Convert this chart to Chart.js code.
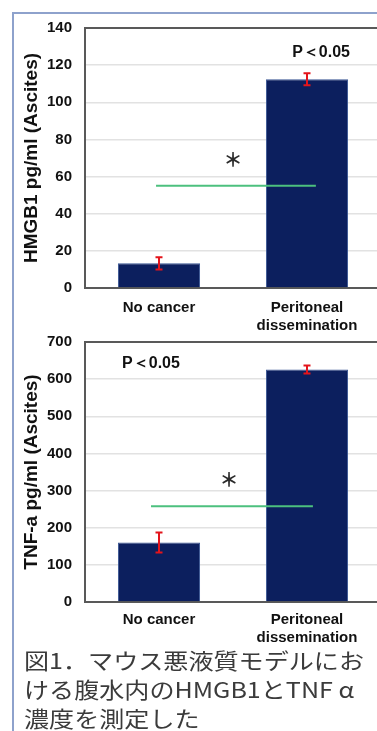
<!DOCTYPE html>
<html>
<head>
<meta charset="utf-8">
<script src="https://cdn.jsdelivr.net/npm/chart.js@4.4.1/dist/chart.umd.min.js"></script>
<style>
html, body { margin: 0; padding: 0; background: #fff; overflow: hidden; }
body { width: 377px; height: 731px; position: relative; }
#frame { position: absolute; left: 12px; top: 12px; width: 420px; height: 780px;
  border-left: 2px solid #8ea2cc; border-top: 2px solid #8ea2cc; }
canvas { position: absolute; left: 0; }
#hmgb1Chart { top: 0; }
#tnfChart { top: 320px; }
#caption { position: absolute; left: 24px; top: 645px; font-family: "Noto Sans CJK JP", sans-serif;
  font-size: 22px; line-height: 29px; color: #3b3b3b; white-space: nowrap;
  transform: scaleX(1.14); transform-origin: 0 0; }
</style>
</head>
<body>
<div id="frame"></div>
<canvas id="hmgb1Chart" width="385" height="345"></canvas>
<canvas id="tnfChart" width="385" height="330"></canvas>
<div id="caption">図1．マウス悪液質モデルにお<br>ける腹水内のHMGB1とTNF α<br>濃度を測定した</div>
<script>
// 카테고리
const categories = [['No cancer'], ['Peritoneal', 'dissemination']];

// HMGB1 (pg/ml)
const hmgb1Values = [13.3, 112.4];
const hmgb1Errors = [3.3, 3.2];
const hmgb1Ticks = [0, 20, 40, 60, 80, 100, 120, 140];

// TNF-a (pg/ml)
const tnfValues = [160, 626];
const tnfErrors = [27, 11];
const tnfTicks = [0, 100, 200, 300, 400, 500, 600, 700];

const frameColor = '#595959';
const fontFamily = '"Liberation Sans", Arial, sans-serif';

// 에러바, 유의선, 별표, P값 그리기
const marksPlugin = {
	id: 'marks',
	afterDatasetsDraw(chart, args, opts) {
		let ctx = chart.ctx;
		let xs = chart.scales.x;
		let ys = chart.scales.y;
		let meta = chart.getDatasetMeta(0);
		let values = chart.data.datasets[0].data;

		ctx.save();
		// error bars
		ctx.strokeStyle = '#e3141b';
		ctx.lineWidth = 2;
		opts.errors.forEach(function(e, i) {
			let x = meta.data[i].x;
			let y1 = ys.getPixelForValue(values[i] + e);
			let y2 = ys.getPixelForValue(values[i] - e);
			ctx.beginPath();
			ctx.moveTo(x, y1); ctx.lineTo(x, y2);
			ctx.moveTo(x - 3.5, y1); ctx.lineTo(x + 3.5, y1);
			ctx.moveTo(x - 3.5, y2); ctx.lineTo(x + 3.5, y2);
			ctx.stroke();
		});

		// significance line
		let ly = ys.getPixelForValue(opts.line.y);
		ctx.strokeStyle = '#4cc07e';
		ctx.lineWidth = 2;
		ctx.beginPath();
		ctx.moveTo(xs.getPixelForValue(opts.line.x0), ly);
		ctx.lineTo(xs.getPixelForValue(opts.line.x1), ly);
		ctx.stroke();

		// asterisk
		ctx.fillStyle = '#2b2b2b';
		ctx.textAlign = 'center';
		ctx.textBaseline = 'middle';
		ctx.font = 'bold 19px "Noto Sans CJK JP"';
		ctx.fillText('＊', xs.getPixelForValue(opts.star.x), ys.getPixelForValue(opts.star.y));

		// p value
		ctx.fillStyle = '#111';
		ctx.font = 'bold 16px ' + fontFamily;
		ctx.fillText('P＜0.05', xs.getPixelForValue(opts.p.x), ys.getPixelForValue(opts.p.y));
		ctx.restore();
	}
};

function makeChart(id, values, errors, ticks, title, padTop, xHeight, labelPad, marks) {
	let ctx = document.getElementById(id).getContext('2d');
	return new Chart(ctx, {
		type: 'bar',
		data: {
			labels: categories,
			datasets: [{
				data: values,
				backgroundColor: '#0c1f5e',
				borderColor: '#3a5694',
				borderWidth: 1,
				categoryPercentage: 1,
				barPercentage: 0.555
			}]
		},
		options: {
			responsive: false,
			animation: false,
			layout: { padding: { top: padTop, right: 4, left: 0, bottom: 0 } },
			scales: {
				x: {
					grid: { display: false, drawTicks: false },
					border: { display: true, color: frameColor, width: 2 },
					ticks: {
						color: '#111',
						padding: labelPad,
						maxRotation: 0,
						font: { family: fontFamily, size: 15, weight: 'bold' }
					},
					afterFit: function(scale) { scale.height = xHeight; }
				},
				y: {
					min: ticks[0],
					max: ticks[ticks.length - 1],
					afterBuildTicks: function(scale) {
						scale.ticks = ticks.map(function(v) { return { value: v }; });
					},
					grid: {
						drawTicks: false,
						lineWidth: function(c) { return c.tick && c.tick.value === ticks[ticks.length - 1] ? 2 : 1.5; },
						color: function(c) { return c.tick && c.tick.value === ticks[ticks.length - 1] ? frameColor : '#e2e2e2'; }
					},
					border: { display: true, color: frameColor, width: 2 },
					ticks: {
						color: '#111',
						padding: 13,
						font: { family: fontFamily, size: 15, weight: 'bold' }
					},
					title: {
						display: true,
						text: title,
						color: '#111',
						padding: { top: 20, bottom: 0 },
						font: { family: fontFamily, size: 19, weight: 'bold' }
					},
					afterFit: function(scale) { scale.width = 85; }
				}
			},
			plugins: {
				legend: { display: false },
				tooltip: { enabled: false },
				marks: marks
			}
		},
		plugins: [marksPlugin]
	});
}

makeChart('hmgb1Chart', hmgb1Values, hmgb1Errors, hmgb1Ticks, 'HMGB1 pg/ml (Ascites)', 28, 57, 11, {
	errors: hmgb1Errors,
	line: { y: 55, x0: -0.02, x1: 1.06 },
	star: { x: 0.5, y: 69 },
	p: { x: 1.095, y: 127 }
});

makeChart('tnfChart', tnfValues, tnfErrors, tnfTicks, 'TNF-a pg/ml (Ascites)', 22, 48, 9, {
	errors: tnfErrors,
	line: { y: 258, x0: -0.054, x1: 1.04 },
	star: { x: 0.473, y: 328 },
	p: { x: -0.054, y: 643 }
});
</script>
</body>
</html>
